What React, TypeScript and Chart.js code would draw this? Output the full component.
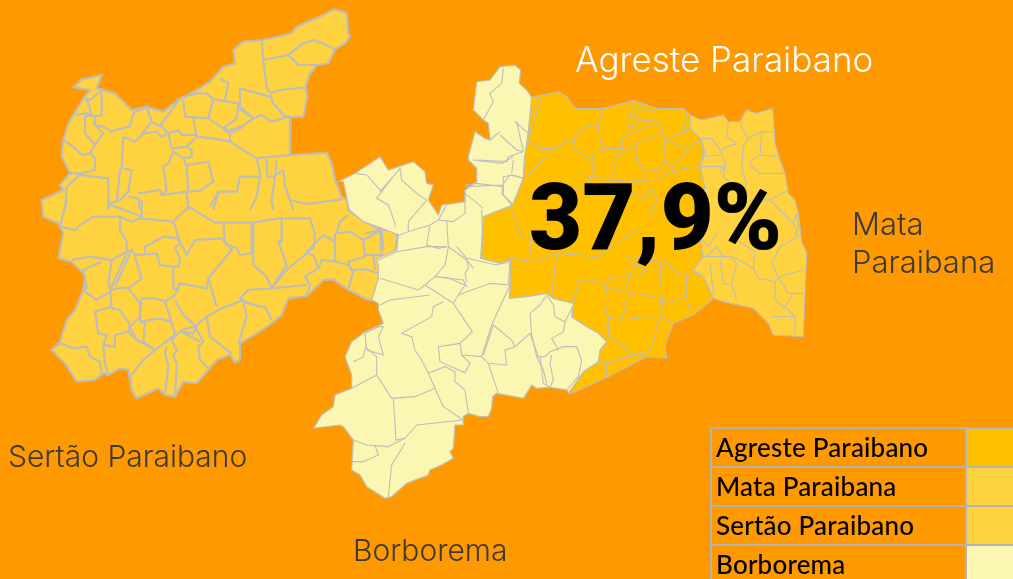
import React, { useEffect, useRef } from "react";
import { Chart, registerables } from "chart.js";
Chart.register(...registerables);

// Region names and the headline value
const regionNames = ["Agreste Paraibano", "Mata Paraibana", "Sertão Paraibano", "Borborema"];
const headline = "37,9%";

// Map geometry, as x,y lists in map units (each list gives its own origin and 1/3 scale)
const N = { ox: 40, oy: 0 };
const S = { ox: 40, oy: 200 };
const C = { ox: 310, oy: 150 };
const E = { ox: 460, oy: 60 };

const sertaoOutlineN = [880,28,920,38,925,100,930,110,915,130,885,148,865,190,830,195,808,225,797,262,802,290,790,350,752,352,750,465,860,458,875,490,885,540,905,590,925,605];
const sertaoOutlineS = [925,30,960,55,985,70,1020,90,1075,85,1065,155,1020,175,1018,225,1000,300,985,300,925,270,880,238,850,240,825,265,800,288,745,295,725,345,695,370,650,400,600,430,600,480,585,487,570,465,530,480,500,515,470,550,430,545,405,590,375,585,355,565,290,595,275,570,265,510,240,505,205,525,190,520,165,540,110,545,75,490,35,450,60,425,80,360,105,330,130,270,135,225,95,185,55,175,70,100,55,70,10,50,5,0];
const sertaoOutlineN2 = [5,600,70,570,60,555,90,520,65,470,70,420,85,370,130,295,150,270,100,262,125,238,185,225,170,265,225,280,275,330,320,320,370,335,420,295,435,290,470,270,510,245,550,200,585,190,580,150,610,125,670,120,755,100,770,80,850,45,880,28];

const sertaoLinesN = [
  [665,125,670,180,680,260,690,280],[670,180,745,165,775,195,830,195],[745,165,790,130,825,120,885,148],
  [690,280,720,270,797,262],[690,285,700,310,730,345,750,352],[600,265,690,290],[600,265,600,320,640,355],
  [435,290,470,280,500,280,520,298,505,355,435,350,430,300],[520,298,595,310,590,355,550,385,505,355],
  [540,235,565,250,555,300],[595,325,640,355,605,380,565,392,550,385],[640,355,665,345,695,365,745,350],
  [570,400,610,380],[460,355,470,410,520,415,570,425,570,400,550,390],[570,425,650,475,750,465],
  [470,405,425,405,415,390,385,400,360,375,385,345,420,295],[385,400,395,445,440,440,470,410],
  [440,440,455,450,455,470,430,475,400,455,385,490,370,500,380,570,365,585],
  [430,475,440,500,445,575,480,572,520,545,505,485,440,495],[650,475,660,520,660,530,600,530,590,575,535,575,510,620],
  [660,530,650,590,630,630],[680,478,682,530,705,530,710,480],[705,530,695,600,700,630],[730,510,700,530],
  [730,510,735,560,750,600,760,630],[750,600,800,612,905,598],[250,410,285,425,310,400,350,395,365,410,385,400],
  [250,410,245,505,240,510,230,605],[250,505,275,510,265,575,240,600,210,610,205,630],[265,590,295,595,300,630],
  [295,580,360,570,365,585,440,575],[440,575,445,630],
  [245,385,215,395,190,380,165,375,190,400,165,435,150,460,125,465,100,440,70,420],
  [245,385,270,380,280,340,320,320,335,365,300,410,285,425],[335,365,360,380],
  [130,295,150,300,185,270,185,345,165,350,140,340,100,345],[140,295,155,345,135,350,135,400,165,435],[165,350,165,375],
  [150,460,165,475,165,510,125,520,85,520],[120,525,205,535,205,630],[120,525,80,560,75,630],[520,630,535,575],
];

const sertaoLinesS = [
  [80,0,60,80,105,90,120,75,160,50,240,50,275,65,300,55,400,65,445,20,525,68,635,68,720,55,810,55,825,100,820,145,800,155],
  [205,0,210,15,240,25,305,50,305,0],[240,50,240,90,260,125,260,155,215,180,185,175,150,170,95,180],
  [400,65,420,125,440,165,465,120,545,115,575,150,505,235,500,265,420,250,415,265,400,265,400,200,360,195,350,160,285,165,275,150,260,155],
  [420,125,410,115,370,110,315,140,315,160],[420,130,405,145,420,175,415,200,400,200],
  [550,70,555,130,590,145,600,165,635,160,635,68],[640,68,640,195,680,230,695,265,740,195,715,125,725,125,725,55],
  [695,265,740,210,800,160,820,165,835,205,795,230,810,255,800,285],[835,205,845,180,885,185,925,195,940,215,925,265],
  [800,255,695,265,625,270,600,295,610,300,545,325,500,350,465,380,425,390,395,420],[505,235,530,320],
  [610,305,660,320,675,320,695,360],[610,305,620,350,595,430],[500,350,510,410,575,460],[465,380,490,425,475,440,480,480,510,510],
  [405,300,430,345,470,380,460,400,425,395],[420,250,405,285,375,305,405,400,390,420],
  [375,305,345,295,305,295,300,365,360,355,390,365],[300,365,315,370,310,425,345,450,385,420,395,410],
  [265,265,300,310,300,350,270,380,290,420,345,450],[215,270,245,262,265,265,305,235,285,170],
  [210,270,215,320,165,335,175,400,200,405,190,435,225,440,225,405,265,395,270,375,240,330,215,325],[290,420,265,395],
  [185,185,130,210,140,260,135,275,170,300,210,275],[215,180,205,250,215,275],[260,160,210,270],[275,150,225,260],
  [35,450,60,430,100,445,140,440,150,470,180,485,185,520],[190,435,195,490,205,525],[345,450,310,480,270,530,275,550],
  [380,440,375,460,385,500,375,580],[395,420,410,450,400,470,410,490,405,590],[425,395,480,425],
  [890,100,930,95,970,120,1025,90],[885,105,885,185],[970,120,975,170,925,185,930,205],[975,100,1020,92,1025,165,975,165],
  [1025,90,1030,150],[930,210,980,208,1012,220],[1000,165,1005,210],[890,100,900,65,925,45],[800,155,850,105,885,125,885,100],
];

const borboremaNorth = [165,15,182,30,178,70,200,90,215,112,205,215,193,300,190,355,158,435,70,470,62,595,120,610,150,600,150,680,148,715,200,710,260,700,280,715,340,730,335,770,380,800,415,820,440,845,420,870,415,905,370,935,350,965,325,1000];
const borboremaSouth = [770,720,720,712,680,715,665,705,650,730,640,745,560,730,548,740,545,775,535,800,510,800,475,790,460,800,460,825,435,825,430,895,420,905,430,925,395,945,360,960,355,975,290,1000,245,1040,225,1045,170,1010,150,975,125,960,130,870,100,830,90,825,10,835,35,795,70,770,75,735,125,715,125,675,105,620,125,575,165,545,220,520,205,480,205,460,185,450,205,385,205,350,200,325,260,300,265,255,215,235,160,215,118,180,100,95,85,95,135,70,210,20,235,60,310,35,345,65,350,100,370,105,355,150,385,195,395,165,465,155,465,120,500,95,500,55,475,30];
const borboremaNorth2 = [25,290,45,215,75,235,90,240,85,190,70,180,40,150,50,65,90,60,120,20,165,15];

const borboremaLinesC = [
  [135,70,170,75,215,125],[245,85,200,145,235,165,255,220,255,232],[210,125,245,85,270,55,275,90,320,130,350,150,295,215,295,245,260,258],
  [295,245,360,225,385,210,430,215,465,190,465,120],[385,210,410,165],[360,225,350,285,385,295,410,290],[410,210,415,290,470,330,490,355],
  [205,330,260,305,350,290,410,290],[415,290,405,345,375,380,345,405,325,420,210,385],[405,380,465,405,445,435,430,460,345,405],
  [375,380,460,390,470,410],[440,290,470,325,475,355,465,370,470,395],[470,325,560,345,600,335],[515,180,520,325],[465,130,520,175],
  [600,335,595,405,540,400,445,435],[600,405,545,525,515,620,455,615,450,580,487,545,430,460],[210,465,240,450,360,435],
  [400,455,370,470,365,500,275,550,305,560,315,600,335,630,355,670,375,715,315,740,245,745,200,675,200,620,165,590],
  [355,670,405,650,435,665],[450,580,385,590,390,635,465,668,480,640,455,615],[375,715,400,770,460,810],
  [435,665,435,695,465,720,475,790],[250,745,258,870,285,865,320,825,460,810],[200,675,125,715],
  [165,550,170,600,220,615,205,560,220,530,205,530,165,550],[165,595,160,620,130,635],[130,870,170,885,235,890,285,865],
  [195,885,205,915,160,935,125,935],[285,880,245,945,235,1040],
  [515,620,535,640,590,645,585,600,615,590,660,550,685,620,705,620,720,605,760,590,800,590,815,630,805,680,770,720],
  [535,640,565,730],[520,615,550,525,605,570,615,590],[660,490,665,555,680,620,700,660,710,700],[660,490,690,465,710,435],
  [690,620,700,700,720,712],[725,615,720,640,730,690,720,712],[710,435,730,465,735,500,765,515,790,465],
  [765,515,760,545,725,565,740,590,745,600],[490,30,575,40,610,20],[465,110,580,105,580,135,605,165],[580,100,600,75,640,85],[605,70,610,30],
];
const borboremaLinesE = [
  [130,25,125,70,90,100,100,125,70,180],[170,185,190,275,145,290,140,305,50,300],[120,225,170,270,190,275],[90,240,120,215],
  [130,375,130,350,160,345,190,355],[15,375,50,370,130,380,125,400,160,435],[165,185,205,220],
];

const agresteOutline = [215,112,295,95,320,110,345,145,430,145,520,122,590,145,670,145,690,165,700,190,690,205,720,235,735,275,720,320,735,380,720,480,720,530,730,590,700,630,730,650,760,715,700,765,640,790,615,855,620,895,560,890,445,950,335,1000,325,1000,350,965,370,935,415,905,420,870,440,845,415,820,380,800,335,770,340,730,280,715,260,700,200,710,148,715,150,680,150,600,120,610,62,595,70,470,158,435,190,355,193,300,205,215];
const agresteLines = [
  [245,110,215,200,205,245,240,265,280,265,345,235,365,205,415,195,430,145],
  [415,195,420,240,430,265,490,265,485,235,595,185,610,215,590,225,530,250,525,265],
  [345,235,340,265,380,290,400,315,400,350,360,345],[280,265,195,355],[520,122,505,205,550,180,595,185],[550,125,520,170,550,180],[590,150,545,150],
  [430,265,395,290,405,320,400,345,430,360,455,360,470,285,525,260,530,300,555,335,600,330,615,305],
  [610,215,615,255,610,300,635,320,685,270,675,260,640,250,620,240,680,210,690,205],[680,155,670,235],
  [680,265,725,235,730,280,720,320,640,330,580,365,520,360,510,395,550,415,575,385],
  [150,440,185,530,210,535,215,605],[220,605,290,580,275,710],[290,580,415,590,440,570],[520,605,510,650,495,695,440,685],
  [510,650,440,655],[355,660,400,660,440,675,435,735,445,775,440,800],[355,660,340,730],[510,695,600,715,605,735],[510,695,485,780,445,775],
  [600,605,605,700,610,730,600,770,575,860],[605,730,680,710,690,765],[680,650,680,710],[680,650,730,640],[600,765,635,790],[485,780,580,770],
  [445,790,445,830,495,860,510,890,575,870],[440,910,440,950],[415,905,440,910,535,880,560,890],[610,600,650,635,680,645],[520,610,560,630,530,650],[150,595,215,605],
  [460,360,515,365],[400,345,365,380,340,400],[555,335,560,350],[640,330,655,355],[575,385,590,420,570,470],[440,570,470,550,530,510],[500,590,600,605],
];

const mataOutline = [690,165,725,180,790,165,805,185,840,185,860,150,890,160,938,145,945,250,960,300,975,340,985,400,1005,420,1015,460,1025,545,1040,580,1035,700,1030,830,940,825,925,790,880,745,790,725,760,715,730,650,700,630,730,590,720,530,720,480,735,380,720,320,735,275,720,235,690,205];
const mataLines = [
  [805,185,800,230,830,250,780,270,755,235,730,235],[845,185,845,205,865,235,905,215,940,215],[865,235,850,260,845,320,860,370,850,390],
  [780,270,795,310,790,350,830,385],[730,290,780,285],[720,320,790,320,780,340],[905,215,900,285,875,300,870,315,900,340,975,340],[900,285,960,290],
  [930,420,985,390],[930,420,1000,490],[870,420,930,420],[1010,460,1000,490,1015,530,960,560,935,610,955,650,1030,630],
  [960,650,945,665,895,655,880,625,885,575,830,540],[820,590,880,625],[730,590,815,590,830,610,815,670,830,720],[780,600,790,670,810,675],[750,615,760,700],
  [955,650,985,700,1030,700],[1000,700,975,740,1005,770,1005,825],[945,665,945,720,975,745],[935,770,1005,770],[790,590,770,560,740,590],[720,530,745,560,770,520],[1010,460,1015,500,1005,530],
];

type Origin = { ox: number; oy: number };
const pts = (o: Origin, flat: number[]) => {
  const out: { x: number; y: number }[] = [];
  for (let i = 0; i < flat.length; i += 2) out.push({ x: o.ox + flat[i] / 3, y: o.oy + flat[i + 1] / 3 });
  return out;
};

const BORDER = "#BFBDB9";
const polygon = (points: { x: number; y: number }[], color: string, order: number, width: number) => ({
  type: "scatter" as const,
  data: [...points, points[0]],
  showLine: true,
  fill: "shape",
  backgroundColor: color,
  borderColor: BORDER,
  borderWidth: width,
  pointRadius: 0,
  tension: 0,
  order,
});
const polyline = (points: { x: number; y: number }[], width: number) => ({
  type: "scatter" as const,
  data: points,
  showLine: true,
  fill: false,
  borderColor: BORDER,
  borderWidth: width,
  pointRadius: 0,
  tension: 0,
  order: 0,
});

const textPlugin = {
  id: "mapText",
  afterDraw(chart: any) {
    const { ctx, scales } = chart;
    const X = (v: number) => scales.x.getPixelForValue(v);
    const Y = (v: number) => scales.y.getPixelForValue(v);
    ctx.save();
    ctx.textBaseline = "alphabetic";
    const label = (t: string, x: number, y: number, font: string, color: string, spacing = "0px") => {
      ctx.font = font;
      ctx.fillStyle = color;
      ctx.letterSpacing = spacing;
      ctx.fillText(t, X(x), Y(y));
    };
    label(regionNames[0], 575, 72, "300 35px Inter, Lato, sans-serif", "#FFFFFF");
    label("Mata", 852, 235, "300 31px Inter, Lato, sans-serif", "#3A3A3A");
    label("Paraibana", 852, 273, "300 31px Inter, Lato, sans-serif", "#3A3A3A");
    label(regionNames[2], 8, 467, "300 30px Inter, Lato, sans-serif", "#3A3A3A");
    label(regionNames[3], 353, 561, "300 30px Inter, Lato, sans-serif", "#3A3A3A");
    label(headline, 529, 249, "900 92px Roboto, Inter, sans-serif", "#000000");

    // Legend table
    const swatches = ["#FFC000", "#FFD340", "#FFD340", "#FBF6B2"];
    const rows = [428, 467, 506, 545, 585];
    ctx.strokeStyle = "#B4B4B4";
    ctx.lineWidth = 2;
    regionNames.forEach((name, i) => {
      ctx.fillStyle = swatches[i];
      ctx.fillRect(X(967), Y(rows[i]), X(1013) - X(967), Y(rows[i + 1]) - Y(rows[i]));
      ctx.strokeRect(X(711), Y(rows[i]), X(966) - X(711), Y(rows[i + 1]) - Y(rows[i]));
      ctx.beginPath();
      ctx.moveTo(X(966), Y(rows[i]));
      ctx.lineTo(X(1013), Y(rows[i]));
      ctx.stroke();
      label(name, 716, rows[i] + 29, '500 26px Lato, "Open Sans", sans-serif', "#000000", "0.2px");
    });
    ctx.restore();
  },
};

const backgroundPlugin = {
  id: "pageBackground",
  beforeDraw(chart: any) {
    const { ctx, width, height } = chart;
    ctx.save();
    ctx.fillStyle = "#FF9900";
    ctx.fillRect(0, 0, width, height);
    ctx.restore();
  },
};

export default function App() {
  const ref = useRef<HTMLCanvasElement>(null);
  useEffect(() => {
    document.body.style.margin = "0";
    const sertao = [...pts(N, sertaoOutlineN), ...pts(S, sertaoOutlineS), ...pts({ ox: 40, oy: 0 }, sertaoOutlineN2)];
    const borborema = [...pts(E, borboremaNorth), ...pts(C, borboremaSouth), ...pts(E, borboremaNorth2)];
    const datasets: any[] = [
      polygon(pts(E, agresteOutline), "#FFC000", 3, 1.2),
      polygon(pts(E, mataOutline), "#FFD340", 2, 1.2),
      polygon(sertao, "#FFD340", 2, 2.2),
      polygon(borborema, "#FBF6B2", 1, 1.2),
      ...sertaoLinesN.map((l) => polyline(pts(N, l), 2.2)),
      ...sertaoLinesS.map((l) => polyline(pts(S, l), 2.2)),
      ...borboremaLinesC.map((l) => polyline(pts(C, l), 1.1)),
      ...borboremaLinesE.map((l) => polyline(pts(E, l), 1.1)),
      ...agresteLines.map((l) => polyline(pts(E, l), 1.1)),
      ...mataLines.map((l) => polyline(pts(E, l), 1.1)),
    ];
    const chart = new Chart(ref.current!, {
      type: "scatter",
      data: { datasets },
      options: {
        animation: false,
        responsive: false,
        layout: { padding: 0 },
        plugins: { legend: { display: false }, tooltip: { enabled: false } },
        scales: {
          x: { type: "linear", min: 0, max: 1013, display: false },
          y: { type: "linear", min: 0, max: 579, reverse: true, display: false },
        },
      },
      plugins: [backgroundPlugin, textPlugin],
    } as any);
    return () => chart.destroy();
  }, []);
  return <canvas ref={ref} width={1013} height={579} style={{ display: "block" }} />;
}
